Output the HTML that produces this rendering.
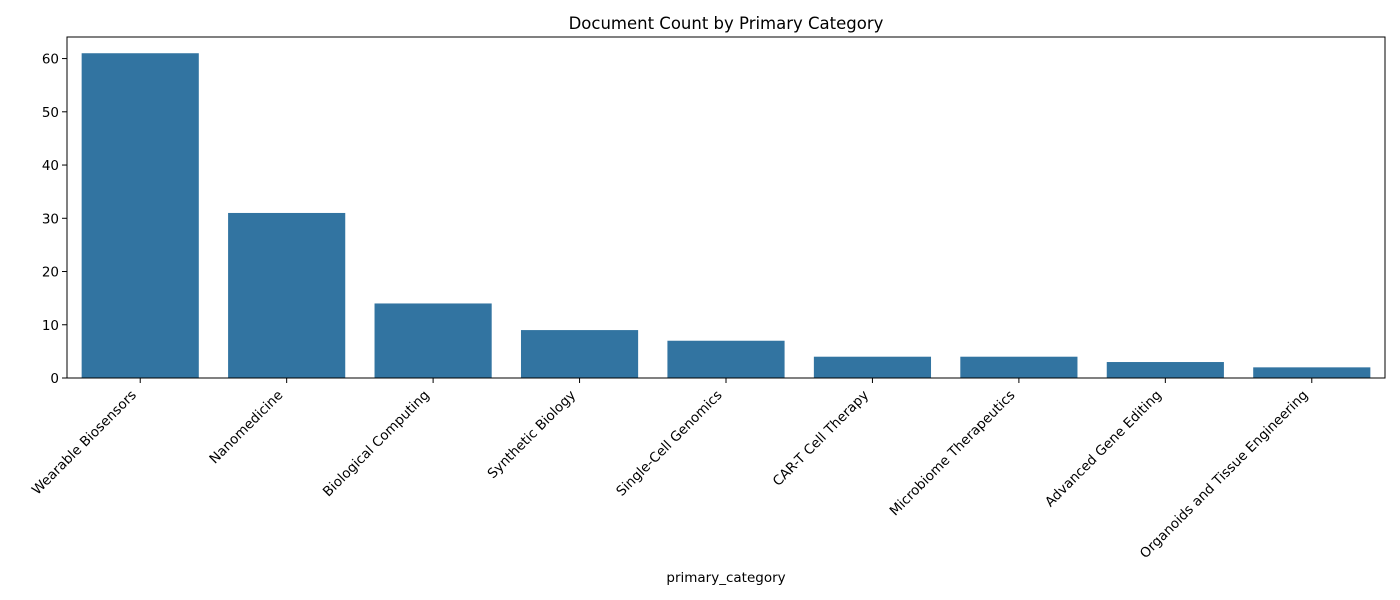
<!DOCTYPE html>
<html><head><meta charset="utf-8"><style>body{margin:0;background:#fff}svg{display:block;font-family:"DejaVu Sans","Liberation Sans",sans-serif}</style></head>
<body>
<svg width="1400" height="600">
<g id="plot"></g>
</svg>
<script>
const categories=["Wearable Biosensors","Nanomedicine","Biological Computing","Synthetic Biology","Single-Cell Genomics","CAR-T Cell Therapy","Microbiome Therapeutics","Advanced Gene Editing","Organoids and Tissue Engineering"];
const counts=[61,31,14,9,7,4,4,3,2];
const yTicks=[0,10,20,30,40,50,60];
const L=67,R=1385,T=37,B=378;
const ymax=Math.max(...counts)*1.05;
const ns="http://www.w3.org/2000/svg";
const g=document.getElementById('plot');
const slot=(R-L)/categories.length;
const xc=i=>L+slot*(i+0.5);
const y=v=>B-(B-T)*v/ymax;
function mk(t,a,p){const e=document.createElementNS(ns,t);for(const k in a)e.setAttribute(k,a[k]);(p||g).appendChild(e);return e;}
counts.forEach((v,i)=>{
 const r=mk('rect',{x:xc(i)-slot*0.4,y:y(v),width:slot*0.8,height:B-y(v),fill:'#3274a1'});
 
 
 const tk=mk('line',{x1:xc(i),x2:xc(i),y1:B,y2:B+5,stroke:'#000','stroke-width':1});
 
 
 const ax=xc(i)-10, ay=B+11;
 const t=mk('text',{x:ax,y:ay,'text-anchor':'end','dominant-baseline':'hanging','font-size':13.5,transform:`rotate(-45 ${ax} ${ay})`});
 t.textContent=categories[i];
 
 
});
yTicks.forEach(v=>{
 const tk=mk('line',{x1:L-5,x2:L,y1:y(v),y2:y(v),stroke:'#000','stroke-width':1});
 
 
 const t=mk('text',{x:L-8,y:y(v)+5,'text-anchor':'end','font-size':13.5});
 t.textContent=v;
 
 
});
const f=mk('rect',{x:L,y:T,width:R-L,height:B-T,fill:'none',stroke:'#000','stroke-width':1});


const ti=mk('text',{x:(L+R)/2,y:29,'text-anchor':'middle','font-size':16.5});
ti.textContent='Document Count by Primary Category';


const xl=mk('text',{x:(L+R)/2,y:582,'text-anchor':'middle','font-size':13.5});
xl.textContent='primary_category';


</script>
</body></html>
